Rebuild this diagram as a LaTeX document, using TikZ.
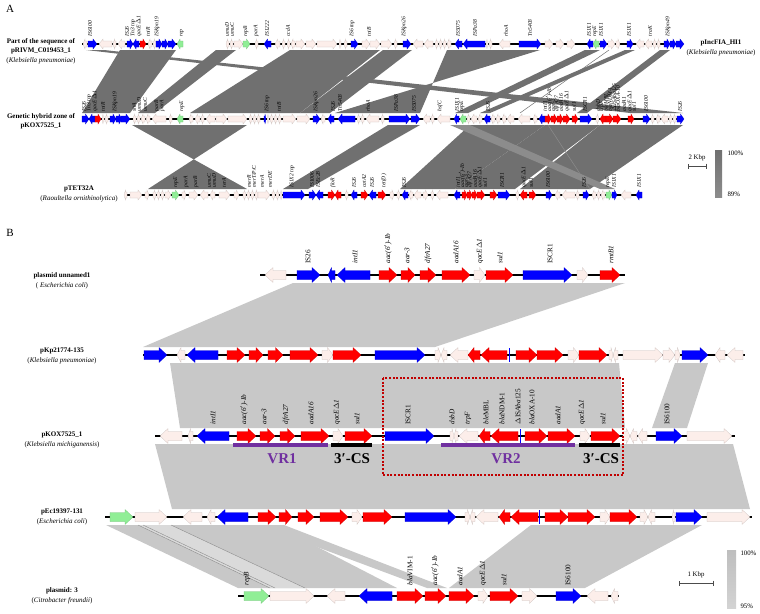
\documentclass[tikz,border=0pt]{standalone}
\usepackage{fontspec}
\setmainfont{Liberation Serif}
\usetikzlibrary{arrows.meta}
\definecolor{gb}{RGB}{0,0,255}
\definecolor{gr}{RGB}{255,0,0}
\definecolor{gg}{RGB}{144,238,150}
\definecolor{gw}{RGB}{252,238,234}
\definecolor{linkA}{RGB}{112,112,112}
\definecolor{linkAl}{RGB}{140,140,140}
\definecolor{linkB}{RGB}{200,200,200}
\definecolor{linkBl}{RGB}{218,218,218}
\definecolor{vrpurple}{RGB}{112,48,160}
\definecolor{boxred}{RGB}{192,0,0}

\tikzset{
  gene/.style={fill=#1, draw=#1!80!black, line width=0.2pt},
  bboneA/.style={line width=1.5pt, black},
  bboneB/.style={line width=1.8pt, black},
  glabA/.style={rotate=90, anchor=west, inner sep=0.3pt, font=\fontsize{5.6}{6}\selectfont\itshape},
  glabB/.style={rotate=90, anchor=west, inner sep=0.3pt, font=\fontsize{7.2}{8}\selectfont\itshape},
  rowname/.style={align=center, font=\fontsize{7}{9.4}\selectfont},
  legend/.style={font=\fontsize{6.8}{7}\selectfont},
  panel/.style={font=\fontsize{11}{12}\selectfont},
  vrtext/.style={text=vrpurple, font=\fontsize{15}{15}\selectfont\bfseries},
  cstext/.style={text=black, font=\fontsize{15}{15}\selectfont\bfseries},
  vrbar/.style={line width=3.5pt, vrpurple},
  csbar/.style={line width=3.5pt, black},
  scalebar/.style={line width=0.4pt, black!70, {Bar[width=5pt]}-{Bar[width=5pt]}}
}

% gene arrow: tail x, tip x, colour (row at \ry)
\newcommand{\gene}[3]{%
  \pgfmathsetmacro{\ghl}{(#2-#1)*min(0.5,\hmax/abs(#2-#1))}%
  \filldraw[gene=#3] (#1,\ry-\bh) -- (#2-\ghl,\ry-\bh) -- (#2-\ghl,\ry-\hh) -- (#2,\ry)
    -- (#2-\ghl,\ry+\hh) -- (#2-\ghl,\ry+\bh) -- (#1,\ry+\bh) -- cycle;}
% homology link between two rows
\newcommand{\band}[5][linkA]{\fill[#1] (#2,\yt) -- (#3,\yt) -- (#5,\yb) -- (#4,\yb) -- cycle;}

\begin{document}
\begin{tikzpicture}[x=1pt, y=-1pt]
\useasboundingbox (0,0) rectangle (760,613);

\node[panel] (pA) at (10,9) {A};
\node[panel] (pB) at (10,233) {B};

% ---------- panel A: links ----------
\def\yt{50}\def\yb{113}
\foreach \a/\b/\c/\d in {120/176/82/130, 216/236/138/155, 290/380/190/300, 383/412/300/330,
    447/540/420/335, 86/104/630/683, 585/600/455/468, 625/635/480/490, 660/670/577/587}
  \band{\a}{\b}{\c}{\d};
\draw[linkA, line width=0.5pt] (609,50) -- (520,113);

\def\yt{125}\def\yb{189}
\foreach \a/\b/\c/\d in {132/247/247/148, 388/420/283/308, 470/545/400/455,
    545/600/455/515, 600/683/520/590}
  \band{\a}{\b}{\c}{\d};
\band[linkAl]{450}{470}{600}{615}
\draw[linkAl, line width=0.5pt] (548,125) -- (590,189);

% ---------- panel A: rows ----------
\def\bh{3}\def\hh{5}\def\hmax{4}
\def\ry{44}
\draw[bboneA] (82,44) -- (183,44) (226,44) -- (683,44);
\foreach \s/\e/\c in {87/83/gw, 88/97/gb, 112/99/gw, 116/113/gw, 125/118/gw, 127/133/gb, 139/133/gb,
    140/146/gr, 152/148/gw, 156/153/gw, 156/162/gb, 162/168/gb, 168/176/gb, 183/177/gg,
    229/226/gw, 233/230/gw, 234/243/gw, 243/250/gg, 258/255/gw, 271/264/gb, 280/275/gw,
    285/282/gw, 290/287/gw, 295/291/gw, 296/305/gw, 306/316/gw, 317/337/gw, 341/339/gw,
    347/344/gw, 351/358/gb, 362/370/gw, 370/380/gw, 381/392/gw, 397/394/gw, 403/411/gb,
    423/413/gw, 433/424/gw, 438/435/gw, 442/439/gw, 446/443/gw, 451/447/gw, 462/455/gb,
    485/463/gb, 488/486/gw, 492/489/gw, 510/499/gw, 519/541/gb, 545/553/gw, 556/564/gw,
    567/575/gw, 593/587/gb, 599/593/gg, 600/607/gb, 608/615/gw, 616/620/gw, 627/633/gb,
    644/636/gw, 652/645/gw, 656/653/gw, 660/657/gw, 664/670/gb, 670/676/gb, 676/684/gb}
  \gene{\s}{\e}{\c};
\foreach \x/\t [count=\i] in {90/IS6100, 127/IS26, 133/{Tn3 tnp}, 139/{qacE$\Delta$1}, 148/tniR,
    157/ISKpn19, 182/rep, 227/umuD, 232/umuC, 246/repB, 256/parA, 267/IS1222, 288/ccdA,
    352/{IS6 tnp}, 369/tniB, 404/ISKpn26, 458/IS5075, 475/ISPa38, 506/rhoA, 530/Tn5403,
    589/IS1X1, 595/repE, 601/IS1X1, 629/IS1X1, 650/traK, 668/ISKpn49}
  \node[glabA] (a1g\i) at (\x,37) {\t};

\def\ry{119}
\draw[bboneA] (82,119) -- (683,119);
\foreach \s/\e/\c in {82/89/gb, 95/89/gb, 95/101/gr, 104/102/gw, 108/105/gw, 110/116/gb, 116/122/gb,
    121/130/gb, 136/133/gw, 140/137/gw, 145/141/gw, 150/146/gw, 166/152/gw, 172/169/gw,
    183/177/gg, 193/189/gw, 200/195/gw, 204/201/gw, 215/206/gw, 216/227/gw, 228/247/gw,
    252/249/gw, 256/253/gw, 260/257/gw, 264/266/gb, 269/267/gw, 273/270/gw, 277/274/gw,
    281/278/gw, 283/296/gw, 297/310/gw, 313/320/gb, 325/321/gw, 334/328/gb, 355/338/gb,
    360/357/gw, 364/361/gw, 379/366/gw, 384/381/gw, 389/410/gb, 411/420/gb, 430/423/gw,
    434/431/gw, 450/437/gw, 459/454/gb, 466/460/gg, 470/467/gw, 477/471/gw, 482/478/gw,
    490/484/gb, 495/491/gw, 500/496/gw, 506/502/gw, 514/507/gw, 530/518/gw, 537/533/gw,
    545/539/gb, 545/551/gr, 551/557/gr, 557/563/gr, 563/570/gr, 572/578/gr, 580/592/gb,
    596/599/gw, 606/600/gr, 606/613/gr, 613/621/gr, 628/634/gr, 643/650/gb, 654/651/gw,
    660/656/gw, 668/661/gw, 672/669/gw, 676/673/gw, 677/684/gb}
  \gene{\s}{\e}{\c};
\foreach \x/\t [count=\i] in {84/IS26, 89/{Tn3 tnp}, 95/{qacE$\Delta$1}, 103/tniR, 115/ISKpn19,
    134/sitA, 139/umuD, 145/umuC, 157/parB, 162/parA, 182/repE, 267/{IS6 tnp}, 279/tniB,
    316/ISKpn26, 333/IS26, 340/Tn5403, 368/rhoA, 396/ISPa38, 414/IS5075, 440/hsfC,
    457/IS1X1, 462/repE, 488/IS26, 545/intI1, 549/{aac(6$'$)-Ib}, 553/aar-3, 557/dfrA27,
    561/aadA16, 567/{qacE$\Delta$1}, 574/sul1, 585/ISCR1, 598/dsbD, 602/trpF, 606/bleMBL,
    610/{blaNDM-1}, 614/{$\Delta$ISAba125}, 618/{blaOXA-10}, 624/aadA1, 630/{qacE$\Delta$1},
    634/sul1, 646/IS6100, 680/IS26}
  \node[glabA] (a2g\i) at (\x,112) {\t};

\def\ry{195}
\draw[bboneA] (124,195) -- (642,195);
\foreach \s/\e/\c in {127/124/gw, 130/142/gw, 145/149/gw, 153/156/gw, 157/160/gw, 161/164/gw,
    165/171/gw, 172/179/gg, 182/186/gw, 189/198/gw, 208/200/gw, 215/210/gw, 219/230/gw,
    234/239/gw, 243/246/gw, 247/250/gw, 251/254/gw, 255/258/gw, 258/270/gw, 272/275/gw,
    276/279/gw, 280/282/gw, 283/305/gb, 309/316/gb, 323/316/gb, 328/335/gr, 341/335/gr,
    348/345/gw, 357/351/gb, 361/368/gr, 376/369/gb, 378/386/gr, 390/394/gw, 397/400/gw,
    408/402/gb, 413/409/gw, 421/414/gw, 423/428/gw, 431/434/gw, 448/436/gw, 460/454/gb,
    462/467/gr, 467/472/gr, 472/477/gr, 477/485/gr, 490/497/gr, 498/510/gb, 516/519/gw,
    527/520/gr, 529/536/gr, 546/552/gb, 560/555/gw, 575/562/gw, 579/576/gw, 583/589/gb,
    596/592/gw, 600/597/gw, 605/601/gw, 606/612/gg, 612/617/gb, 631/621/gw, 642/636/gb}
  \gene{\s}{\e}{\c};
\foreach \x/\t [count=\i] in {176/repE, 186/parA, 196/parB, 209/umuC, 214/umuD, 224/terA,
    249/merR, 254/{merT/P/C}, 262/merA, 270/merDE, 292/{IS1X2 tnp}, 312/IS1006, 318/ISEc28,
    333/floR, 354/IS26, 364/catA2, 372/IS26, 384/{tet(D)}, 404/IS26, 458/intI1,
    462/{aac(6$'$)-Ib}, 466/aar-3, 470/dfrA27, 475/aadA16, 480/{qacE$\Delta$1}, 485/sul1,
    502/ISCR1, 524/{qacE$\Delta$1}, 531/sul1, 548/IS6100, 584/IS26, 608/repE, 614/IS1X1,
    639/IS1X1}
  \node[glabA] (a3g\i) at (\x,188) {\t};

\node[rowname] (nA1) at (41,51) {\textbf{Part of the sequence of}\\\textbf{pRIVM\_C019453\_1}\\(\textit{Klebsiella pneumoniae})};
\node[rowname] (nA1r) at (721,48) {\textbf{pIncFIA\_HI1}\\(\textit{Klebsiella pneumoniae})};
\node[rowname] (nA2) at (41,121) {\textbf{Genetic hybrid zone of}\\\textbf{pKOX7525\_1}};
\node[rowname] (nA3) at (79,194) {\textbf{pTET32A}\\(\textit{Raoultella ornithinolytica})};

% legend A
\node[legend] (kbA) at (697,158) {2 Kbp};
\draw[scalebar] (688,166) -- (706,166);
\shade[top color=linkA, bottom color=linkAl] (715,150) rectangle (722,197);
\node[legend, anchor=west] (pA100) at (724,153) {100\%};
\node[legend, anchor=west] (pA89) at (724,194) {89\%};

% ---------- panel B: links ----------
\def\yt{283}\def\yb{347}
\band[linkB]{293}{625}{143}{435}
\def\yt{363}\def\yb{428}
\band[linkB]{170}{619}{180}{625}
\band[linkB]{675}{708}{652}{687}
\def\yt{444}\def\yb{509}
\band[linkB]{155}{733}{172}{750}
\def\yt{525}\def\yb{588}
\band[linkB]{106}{275}{238}{397}
\band[linkBl]{138}{171}{270}{305}
\draw[black!45, line width=0.4pt] (138,525) -- (270,588) (143,525) -- (275,588) (171,525) -- (305,588);
\band[linkB]{258}{284}{427}{447}
\band[linkB]{531}{702}{449}{585}

% ---------- panel B: rows ----------
\def\bh{4.5}\def\hh{7.5}\def\hmax{8}
\def\ry{275}
\draw[bboneB] (260,275) -- (625,275);
\foreach \s/\e/\c in {286/265/gw, 297/320/gb, 335/328/gb, 370/337/gb, 379/397/gr, 401/415/gr,
    420/436/gr, 442/470/gr, 474/485/gw, 486/513/gr, 523/572/gb, 577/588/gw, 600/620/gr}
  \gene{\s}{\e}{\c};
\foreach \x/\t [count=\i] in {308/\textup{IS26}, 355/intI1, 388/{aac(6$'$)-Ib}, 407/aar-3,
    428/dfrA27, 456/aadA16, 480/{qacE$\Delta$1}, 500/sul1, 550/\textup{ISCR1}, 611/rmtB1}
  \node[glabB] (b1g\i) at (\x,264) {\t};

\def\ry{355}
\draw[bboneB] (143,355) -- (745,355);
\foreach \s/\e/\c in {144/167/gb, 185/177/gw, 218/187/gb, 227/245/gr, 249/263/gr, 268/283/gr,
    290/318/gr, 322/333/gw, 333/361/gr, 375/425/gb, 435/441/gw, 447/441/gw, 468/450/gw,
    480/468/gr, 507/481/gr, 516/537/gr, 537/563/gr, 568/579/gw, 579/607/gr, 609/613/gw,
    618/613/gw, 623/663/gw, 663/675/gw, 675/680/gw, 682/708/gb, 725/715/gw, 743/727/gw}
  \gene{\s}{\e}{\c};
\draw[gb, line width=1pt] (509,348) -- (509,362);

\def\ry{436}
\draw[bboneB] (155,436) -- (735,436);
\foreach \s/\e/\c in {182/160/gw, 193/188/gw, 229/197/gb, 237/256/gr, 260/275/gr, 280/295/gr,
    301/329/gr, 333/343/gw, 345/372/gr, 385/434/gb, 450/454/gw, 458/454/gw, 478/459/gw,
    490/479/gr, 518/491/gr, 525/547/gr, 548/575/gr, 580/590/gw, 591/620/gr, 623/630/gw,
    637/630/gw, 647/638/gw, 656/682/gb, 687/732/gw}
  \gene{\s}{\e}{\c};
\draw[gb, line width=1pt] (520,429) -- (520,443);
\foreach \x/\t [count=\i] in {213/intI1, 244/{aac(6$'$)-Ib}, 264/aar-3, 286/dfrA27, 311/aadA16,
    337/{qacE$\Delta$1}, 357/sul1, 408/\textup{ISCR1}, 452/dsbD, 468/trpF,
    486/{ble\textup{MBL}}, 502/{bla\textup{NDM-1}}, 518/{\textup{$\Delta$IS}Aba\textup{125}},
    532/{bla\textup{OXA-10}}, 558/aadA1, 582/{qacE$\Delta$1}, 603/sul1, 667/\textup{IS6100}}
  \node[glabB] (b3g\i) at (\x,425) {\t};
\draw[vrbar] (233,445) -- (328,445);
\draw[csbar] (331,445) -- (372,445);
\draw[vrbar] (441,445) -- (575,445);
\draw[csbar] (579,445) -- (620,445);
\node[vrtext] (vr1) at (282,459) {VR1};
\node[cstext] (cs1) at (352,459) {3′-CS};
\node[vrtext] (vr2) at (506,459) {VR2};
\node[cstext] (cs2) at (601,459) {3′-CS};
\draw[boxred, line width=2pt, dash pattern=on 2pt off 1.6pt] (383,378) rectangle (623,475);

\def\ry{517}
\draw[bboneB] (105,517) -- (752,517);
\foreach \s/\e/\c in {110/133/gg, 135/167/gw, 202/183/gw, 215/207/gw, 248/217/gb, 258/276/gr,
    279/292/gr, 298/314/gr, 320/348/gr, 352/362/gw, 363/392/gr, 405/456/gb, 465/470/gw,
    475/470/gw, 498/476/gw, 510/499/gr, 538/511/gr, 545/568/gr, 568/595/gr, 600/610/gw,
    610/637/gr, 640/648/gw, 655/648/gw, 675/672/gw, 676/702/gb, 707/750/gw}
  \gene{\s}{\e}{\c};
\draw[gb, line width=1pt] (539,510) -- (539,524);

\def\ry{596}
\draw[bboneB] (238,596) -- (619,596);
\foreach \s/\e/\c in {244/269/gg, 270/314/gw, 345/327/gw, 392/359/gb, 397/423/gr, 425/446/gr,
    449/474/gr, 478/488/gw, 490/518/gr, 522/537/gw, 556/581/gb, 608/587/gw, 618/611/gw}
  \gene{\s}{\e}{\c};
\foreach \x/\t [count=\i] in {247/repB, 410/{bla\textup{VIM-1}}, 435/{aac(6$'$)-Ib},
    460/aadA1, 483/{qacE$\Delta$1}, 504/sul1, 568/\textup{IS6100}}
  \node[glabB] (b5g\i) at (\x,586) {\t};

\node[rowname] (nB1) at (62,281) {\textbf{plasmid unnamed1}\\( \textit{Escherichia coli})};
\node[rowname] (nB2) at (62,356) {\textbf{pKp21774-135}\\(\textit{Klebsiella pneumoniae})};
\node[rowname] (nB3) at (62,440) {\textbf{pKOX7525\_1}\\(\textit{Klebsiella michiganensis})};
\node[rowname] (nB4) at (62,517) {\textbf{pEc19397-131}\\(\textit{Escherichia coli})};
\node[rowname] (nB5) at (62,596) {\textbf{plasmid: 3}\\(\textit{Citrobacter freundii})};

% legend B
\node[legend] (kbB) at (696,575) {1 Kbp};
\draw[scalebar] (679,583) -- (713,583);
\shade[top color=linkB!95!black, bottom color=linkB!80!white] (727,550) rectangle (736,608);
\node[legend, anchor=west] (pB100) at (737,553) {100\%};
\node[legend, anchor=west] (pB95) at (737,606) {95\%};
\end{tikzpicture}
\end{document}
